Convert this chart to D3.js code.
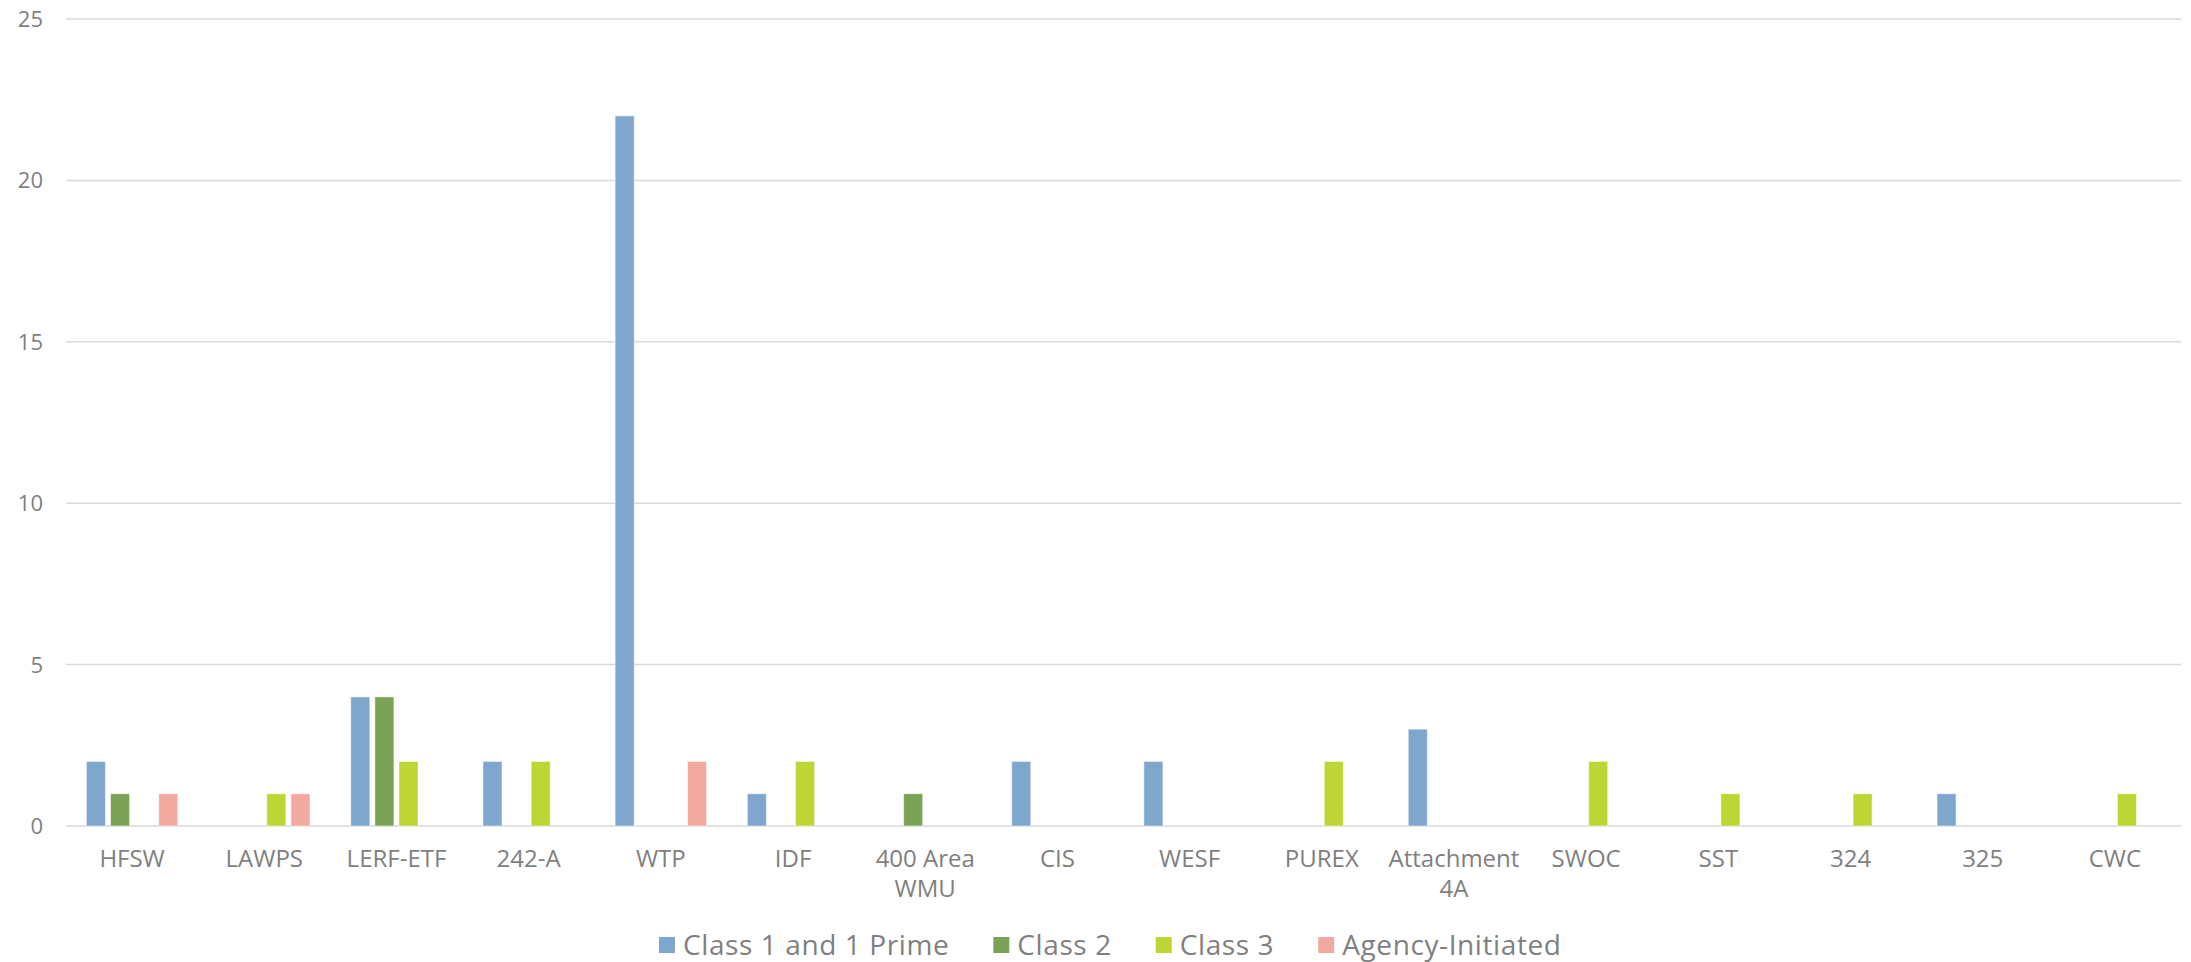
<!DOCTYPE html>
<html>
<head>
<meta charset="utf-8">
<script src="https://cdn.jsdelivr.net/npm/d3@7"></script>
<style>
  body { margin: 0; background: #fff; }
  svg text { font-family: "Open Sans", "Liberation Sans", sans-serif; fill: #7f7f7f; }
</style>
</head>
<body>
<svg id="chart" width="2191" height="962"></svg>
<script>
var categories = ["HFSW", "LAWPS", "LERF-ETF", "242-A", "WTP", "IDF", "400 Area|WMU", "CIS",
    "WESF", "PUREX", "Attachment|4A", "SWOC", "SST", "324", "325", "CWC"];
var seriesNames = ["Class 1 and 1 Prime", "Class 2", "Class 3", "Agency-Initiated"];
var class1 = [2, 0, 4, 2, 22, 1, 0, 2, 2, 0, 3, 0, 0, 0, 1, 0];
var class2 = [1, 0, 4, 0, 0, 0, 1, 0, 0, 0, 0, 0, 0, 0, 0, 0];
var class3 = [0, 1, 2, 2, 0, 2, 0, 0, 0, 2, 0, 2, 1, 1, 0, 1];
var agency = [1, 1, 0, 0, 2, 0, 0, 0, 0, 0, 0, 0, 0, 0, 0, 0];
var yTicks = [0, 5, 10, 15, 20, 25];

var colors = ["#7fa7ce", "#7aa355", "#bed633", "#f2a9a0"];
var values = [class1, class2, class3, agency];

// note: "top" is taken by window.top, so use plot* names
var plotLeft = 66, plotRight = 2181, plotTop = 19, plotBottom = 826;
var svg = d3.select("#chart");

var x0 = d3.scaleBand().domain(d3.range(categories.length))
    .range([plotLeft, plotRight]).paddingInner(0.27).paddingOuter(0.135);
var x1 = d3.scaleBand().domain(d3.range(seriesNames.length))
    .range([0, x0.bandwidth()]).paddingInner(0.21).paddingOuter(0.105);
var y = d3.scaleLinear().domain([0, 25]).range([plotBottom, plotTop]);

// gridlines
svg.append("g").selectAll("line")
    .data(yTicks)
  .enter().append("line")
    .attr("x1", plotLeft).attr("x2", plotRight)
    .attr("y1", function(d){ return y(d); })
    .attr("y2", function(d){ return y(d); })
    .style("stroke", "#d9d9d9")
    .style("stroke-width", "1.5px");

// y labels
svg.append("g").selectAll("text")
    .data(yTicks)
  .enter().append("text")
    .attr("x", 43)
    .attr("y", function(d){ return y(d); })
    .attr("dy", "0.36em")
    .attr("text-anchor", "end")
    .style("font-size", "22px")
    .text(function(d){ return d; });

// bars
var groups = svg.append("g").selectAll("g")
    .data(categories)
  .enter().append("g")
    .attr("transform", function(d, i){ return "translate(" + x0(i) + ",0)"; });

groups.selectAll("rect")
    .data(function(d, i){
        return values.map(function(s, k){ return {k: k, v: s[i]}; })
            .filter(function(e){ return e.v > 0; });
    })
  .enter().append("rect")
    .attr("x", function(d){ return x1(d.k); })
    .attr("width", x1.bandwidth())
    .attr("y", function(d){ return y(d.v); })
    .attr("height", function(d){ return y(0) - y(d.v); })
    .style("fill", function(d){ return colors[d.k]; })
    .style("stroke", "#ffffff")
    .style("stroke-opacity", 0.5)
    .style("stroke-width", "1px");

// x labels
groups.append("text")
    .attr("x", x0.bandwidth() / 2)
    .attr("text-anchor", "middle")
    .style("font-size", "24px")
    .each(function(d){
        var lines = d.split("|");
        var t = d3.select(this);
        lines.forEach(function(l, j){
            t.append("tspan")
                .attr("x", x0.bandwidth() / 2)
                .attr("y", 867 + j * 30)
                .text(l);
        });
    });

// legend
var legend = svg.append("g");
var lx = 659;
seriesNames.forEach(function(name, k){
    legend.append("rect")
        .attr("x", lx).attr("y", 937)
        .attr("width", 16).attr("height", 16)
        .style("fill", colors[k]);
    var t = legend.append("text")
        .attr("x", lx + 24).attr("y", 955)
        .style("font-size", "28px")
        .style("letter-spacing", "0.6px")
        .text(name);
    lx += 24 + t.node().getComputedTextLength() + 44;
});
</script>
</body>
</html>
